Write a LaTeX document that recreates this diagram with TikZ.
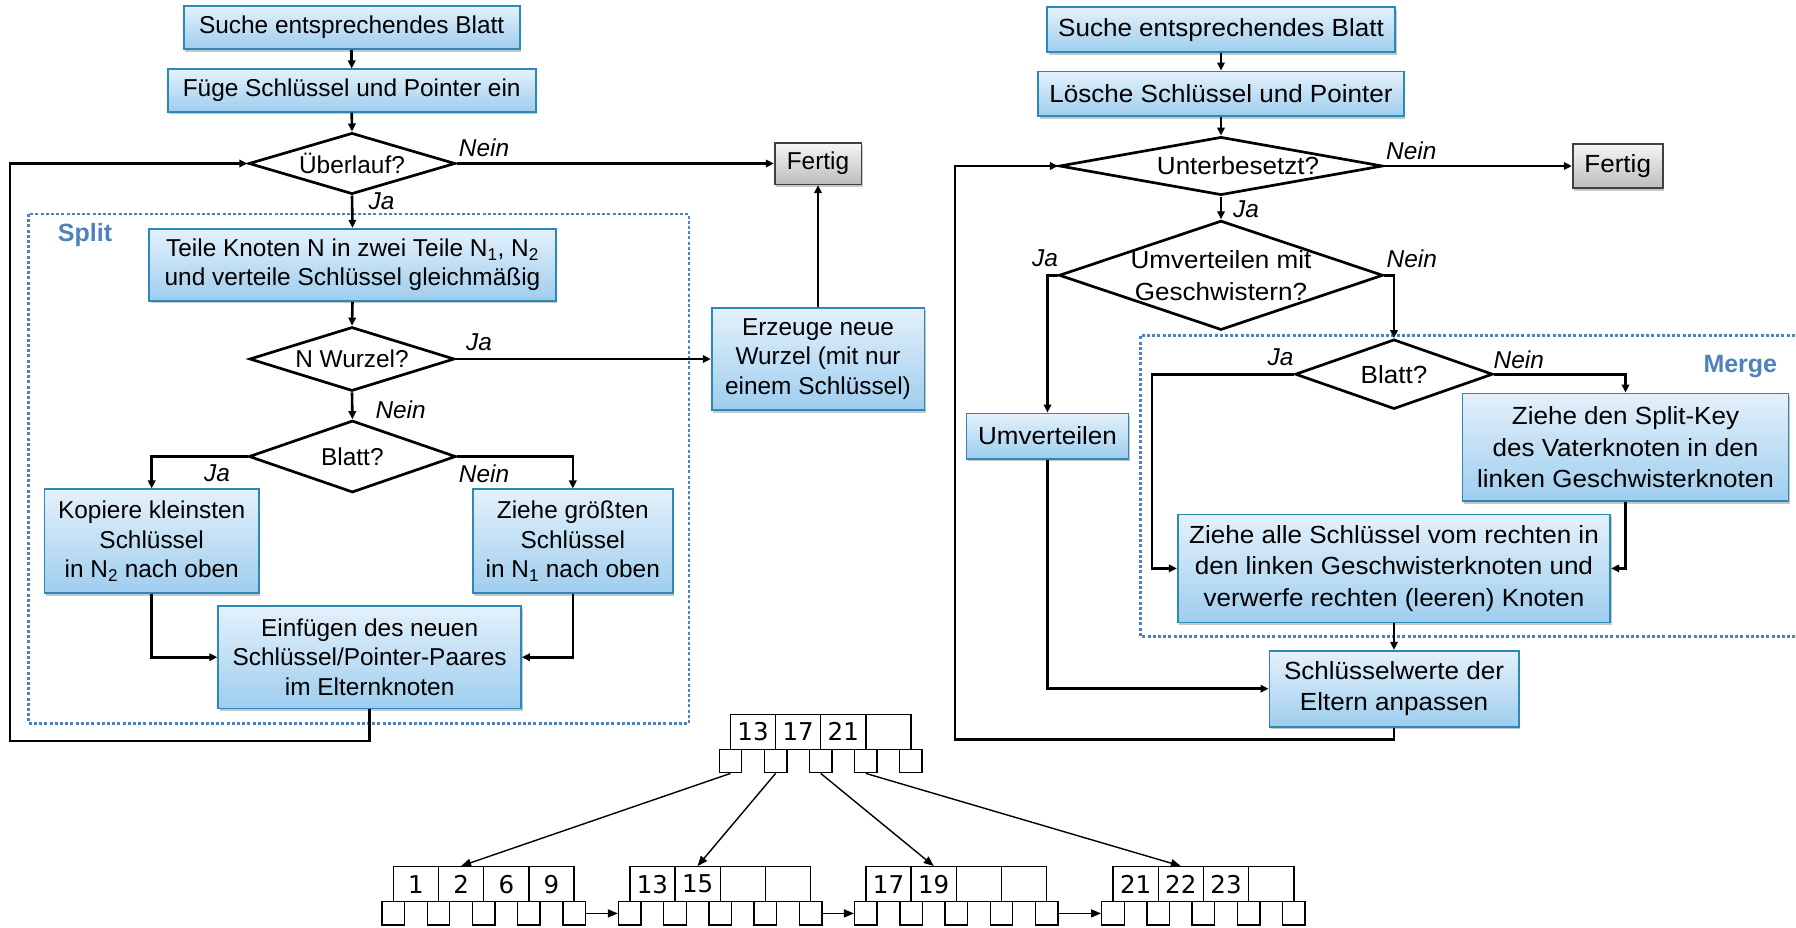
\documentclass[tikz,border=0pt]{standalone}
\usepackage{fontspec}
\setmainfont{Liberation Sans}
\newfontfamily\rfont[FakeStretch=1.05]{Liberation Sans}
\newfontfamily\treefont{DejaVu Sans}
\usetikzlibrary{shapes.geometric,arrows.meta,shadows}

\definecolor{boxtop}{RGB}{228,241,251}
\definecolor{boxbot}{RGB}{158,205,238}
\definecolor{boxline}{RGB}{42,138,182}
\definecolor{grpblue}{RGB}{79,129,189}
\definecolor{greytop}{RGB}{246,246,246}
\definecolor{greybot}{RGB}{188,188,188}

\tikzset{
  lfont/.style={font=\fontsize{24.4}{29.5}\selectfont},
  rfnt/.style={font=\rfont\fontsize{24.8}{31.7}\selectfont},
  proc/.style={rectangle, draw=boxline, line width=1.7pt,
    top color=boxtop, bottom color=boxbot, inner sep=0pt, align=center,
    drop shadow={shadow xshift=1.5pt, shadow yshift=-2.5pt, opacity=0.22, fill=black}},
  done/.style={proc, draw=black!75, top color=greytop, bottom color=greybot},
  decision/.style={diamond, draw=black, line width=2.7pt, fill=white, inner sep=0pt},
  flow/.style={line width=2.6pt, -{Triangle[length=8pt,width=7.5pt]}},
  answer/.style={font=\itshape\fontsize{24.4}{29}\selectfont, inner sep=0pt},
  group/.style={draw=grpblue, line width=2.7pt, dash pattern=on 3pt off 2.2pt},
  grouplabel/.style={text=grpblue, font=\bfseries\fontsize{25}{30}\selectfont, inner sep=0pt},
  key/.style={rectangle, draw=black, line width=1.4pt, minimum width=45.2pt,
    minimum height=35pt, inner sep=0pt, font=\treefont\fontsize{24.5}{26}\selectfont},
  ptr/.style={rectangle, draw=black, line width=1.4pt, fill=white,
    minimum width=22.5pt, minimum height=23.4pt, inner sep=0pt},
  tarrow/.style={line width=1.4pt, -{Triangle[length=10pt,width=8pt]}},
}

\begin{document}
\begin{tikzpicture}[x=1pt, y=-1pt]
\path[use as bounding box, fill=white] (0,0) rectangle (1796,927);

% grouping frames
\draw[group] (28.6,214) rectangle (689,723.3);
\draw[group] (1800,335.5) -- (1140.5,335.5) -- (1140.5,636.2) -- (1800,636.2);
\node[grouplabel] (splitlbl) at (85,235) {Split};
\node[grouplabel] (mergelbl) at (1740.3,366.7) {Merge};

% ---------- insertion ----------
\node[proc, lfont, minimum width=336pt, minimum height=43pt] (a1) at (351.7,27.5) {Suche entsprechendes Blatt};
\node[proc, lfont, minimum width=368pt, minimum height=42.4pt] (a2) at (351.7,90.5) {Füge Schlüssel und Pointer ein};
\node[decision, minimum width=206.6pt, minimum height=61.3pt,
      label={[lfont]center:Überlauf?}] (d1) at (352,163.5) {};
\node[done, lfont, minimum width=86.7pt, minimum height=41.7pt] (fin1) at (818,163.5) {Fertig};
\node[proc, lfont, minimum width=406.4pt, minimum height=72.3pt] (teile) at (352.5,264.8)
  {Teile Knoten N in zwei Teile N\textsubscript{1}, N\textsubscript{2}\\und verteile Schlüssel gleichmäßig};
\node[decision, minimum width=205pt, minimum height=64pt,
      label={[lfont]center:N Wurzel?}] (d2) at (352,359) {};
\node[proc, lfont, minimum width=212.7pt, minimum height=102.3pt] (erz) at (818,359)
  {Erzeuge neue\\Wurzel (mit nur\\einem Schlüssel)};
\node[decision, minimum width=207pt, minimum height=72pt,
      label={[lfont]center:Blatt?}] (d3) at (352.4,456.5) {};
\node[proc, lfont, minimum width=214.5pt, minimum height=104pt] (kop) at (151.7,541.3)
  {Kopiere kleinsten\\Schlüssel\\in N\textsubscript{2} nach oben};
\node[proc, lfont, minimum width=199.7pt, minimum height=104pt] (zgr) at (572.8,541.3)
  {Ziehe größten\\Schlüssel\\in N\textsubscript{1} nach oben};
\node[proc, lfont, minimum width=303pt, minimum height=102.3pt] (einf) at (369.6,657.2)
  {Einfügen des neuen\\Schlüssel/Pointer-Paares\\im Elternknoten};
\coordinate (loopL) at (10,741);

\draw[flow] (a1.south) -- (a2.north);
\draw[flow] (a2.south) -- (d1.north);
\draw[flow] (d1.east) -- (fin1.west);
\draw[flow] (d1.south) -- (teile.north);
\draw[flow] (teile.south) -- (d2.north);
\draw[flow] (d2.east) -- (erz.west);
\draw[flow] (erz.north) -- (fin1.south);
\draw[flow] (d2.south) -- (d3.north);
\draw[flow] (d3.west) -| (kop.north);
\draw[flow] (d3.east) -| (zgr.north);
\draw[flow] (kop.south) |- (einf.west);
\draw[flow] (zgr.south) |- (einf.east);
\draw[flow] (einf.south) |- (loopL) |- (d1.west);

\node[answer] (l1) at (484,148) {Nein};
\node[answer] (l2) at (381.5,201.7) {Ja};
\node[answer] (l3) at (479,342.5) {Ja};
\node[answer] (l4) at (400.6,410) {Nein};
\node[answer] (l5) at (217,473.3) {Ja};
\node[answer] (l6) at (484,473.3) {Nein};

% ---------- deletion ----------
\node[proc, rfnt, minimum width=348pt, minimum height=45pt] (b1) at (1221,29.8) {Suche entsprechendes Blatt};
\node[proc, rfnt, minimum width=365.7pt, minimum height=44.7pt] (b2) at (1221,93.7) {Lösche Schlüssel und Pointer};
\node[decision, minimum width=323.4pt, minimum height=58.3pt,
      label={[rfnt, xshift=17pt]center:Unterbesetzt?}] (e1) at (1221,166) {};
\node[done, rfnt, minimum width=90pt, minimum height=44.3pt] (fin2) at (1617.7,166) {Fertig};
\node[decision, minimum width=324pt, minimum height=109.4pt,
      label={[rfnt, align=center]center:Umverteilen mit\\Geschwistern?}] (e2) at (1221,275.3) {};
\node[proc, rfnt, minimum width=162pt, minimum height=45.3pt] (umv) at (1047.5,436) {Umverteilen};
\node[decision, minimum width=197.7pt, minimum height=69.7pt,
      label={[rfnt]center:Blatt?}] (e3) at (1394,374.2) {};
\node[proc, rfnt, minimum width=326pt, minimum height=107.7pt] (skey) at (1625.5,447.2)
  {Ziehe den Split-Key\\des Vaterknoten in den\\linken Geschwisterknoten};
\node[proc, rfnt, minimum width=432.6pt, minimum height=108pt] (zall) at (1394,568.4)
  {Ziehe alle Schlüssel vom rechten in\\den linken Geschwisterknoten und\\verwerfe rechten (leeren) Knoten};
\node[proc, rfnt, minimum width=249.3pt, minimum height=76pt] (swert) at (1394,688.7)
  {Schlüsselwerte der\\Eltern anpassen};
\coordinate (jaL) at (1152,374.2);
\coordinate (loopR) at (955,739.3);

\draw[flow] (b1.south) -- (b2.north);
\draw[flow] (b2.south) -- (e1.north);
\draw[flow] (e1.east) -- (fin2.west);
\draw[flow] (e1.south) -- (e2.north);
\draw[flow] (e2.west) -| (umv.north);
\draw[flow] (e2.east) -| (e3.north);
\draw[flow] (e3.west) -- (jaL) |- (zall.west);
\draw[flow] (e3.east) -| (skey.north);
\draw[flow] (skey.south) |- (zall.east);
\draw[flow] (zall.south) -- (swert.north);
\draw[flow] (umv.south) |- (swert.west);
\draw[flow] (swert.south) |- (loopR) |- (e1.west);

\node[answer] (m1) at (1411.3,150.7) {Nein};
\node[answer] (m2) at (1246,209.3) {Ja};
\node[answer] (m3) at (1045,258.3) {Ja};
\node[answer] (m4) at (1411.8,258.3) {Nein};
\node[answer] (m5) at (1280.5,357.7) {Ja};
\node[answer] (m6) at (1518.8,359.3) {Nein};

% ---------- B+ tree ----------
\foreach \k [count=\i] in {13,17,21,{}} {
  \node[key] (r-k\i) at (730.5+45.1*\i-22.55,731.8) {\k};
}
\foreach \i in {0,...,4} {
  \node[ptr] (r-p\i) at (730.5+45.1*\i,761) {};
}
\foreach \n/\L/\keys in {1/393.3/{1,2,6,9}, 2/629.8/{13,15,{},{}},
                         3/865.9/{17,19,{},{}}, 4/1113/{21,22,23,{}}} {
  \foreach \k [count=\i] in \keys {
    \node[key] (l\n-k\i) at (\L+45.2*\i-22.6,884.2) {\k};
  }
  \foreach \i in {0,...,4} {
    \node[ptr] (l\n-p\i) at (\L+45.2*\i,913.4) {};
  }
}
\draw[tarrow] (r-p0.south) -- (l1-k2.north);
\draw[tarrow] (r-p1.south) -- (l2-k2.north);
\draw[tarrow] (r-p2.south) -- (l3-k2.north);
\draw[tarrow] (r-p3.south) -- (l4-k2.north);
\draw[tarrow] (l1-p4.east) -- (l2-p0.west);
\draw[tarrow] (l2-p4.east) -- (l3-p0.west);
\draw[tarrow] (l3-p4.east) -- (l4-p0.west);
\end{tikzpicture}
\end{document}
